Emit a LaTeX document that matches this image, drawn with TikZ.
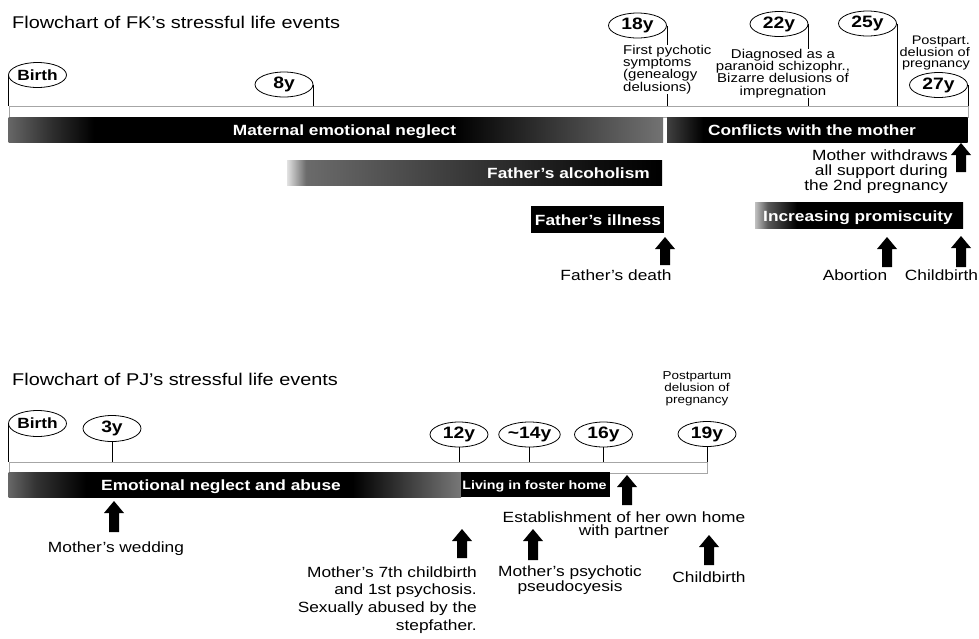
\documentclass[tikz,border=0pt]{standalone}
\usepackage{fontspec}
\setmainfont{Liberation Sans}[FakeStretch=1.17]
\usetikzlibrary{shapes.geometric}

\pgfdeclarehorizontalshading{matshade}{100bp}{rgb(0bp)=(0.4,0.4,0.4); rgb(25bp)=(0.4,0.4,0.4); rgb(28bp)=(0.2,0.2,0.2); rgb(31.5bp)=(0,0,0); rgb(59bp)=(0,0,0); rgb(75bp)=(0.45,0.45,0.45); rgb(100bp)=(0.45,0.45,0.45)}
\pgfdeclarehorizontalshading{conshade}{100bp}{rgb(0bp)=(0.25,0.25,0.25); rgb(25bp)=(0.25,0.25,0.25); rgb(31bp)=(0,0,0); rgb(100bp)=(0,0,0)}
\pgfdeclarehorizontalshading{alcshade}{100bp}{rgb(0bp)=(0.88,0.88,0.88); rgb(25bp)=(0.88,0.88,0.88); rgb(27.5bp)=(0.42,0.42,0.42); rgb(67bp)=(0.05,0.05,0.05); rgb(75bp)=(0,0,0); rgb(100bp)=(0,0,0)}
\pgfdeclarehorizontalshading{promshade}{100bp}{rgb(0bp)=(0.75,0.75,0.75); rgb(25bp)=(0.75,0.75,0.75); rgb(28bp)=(0.35,0.35,0.35); rgb(35bp)=(0,0,0); rgb(100bp)=(0,0,0)}
\pgfdeclarehorizontalshading{emoshade}{100bp}{rgb(0bp)=(0.4,0.4,0.4); rgb(25bp)=(0.4,0.4,0.4); rgb(28bp)=(0.2,0.2,0.2); rgb(33.5bp)=(0,0,0); rgb(63bp)=(0,0,0); rgb(75bp)=(0.47,0.47,0.47); rgb(100bp)=(0.47,0.47,0.47)}

% block arrow pointing up: x, tip y, bottom y
\newcommand\blockarrow[3]{\fill (#1-5,#3) -- (#1-5,#2+12) -- (#1-10,#2+12) -- (#1,#2) -- (#1+10,#2+12) -- (#1+5,#2+12) -- (#1+5,#3) -- cycle;}

\begin{document}
\begin{tikzpicture}[x=1pt,y=-1pt,
  yr/.style={ellipse, draw, line width=0.8pt, minimum width=58pt, minimum height=25pt, inner sep=0pt, font=\bfseries\fontsize{16.5}{16.5}\selectfont},
  tick/.style={line width=0.8pt},
  band/.style={rectangle, draw=black!35, line width=0.8pt, fill=white, inner sep=0pt, minimum height=11pt},
  bar/.style={rectangle, inner sep=0pt, minimum height=25pt, draw=none},
  barlbl/.style={text=white, font=\bfseries\fontsize{14.8}{15}\selectfont, inner sep=0pt},
  note/.style={font=\fontsize{14.8}{15}\selectfont, inner sep=0pt},
  small/.style={font=\fontsize{12.8}{12.2}\selectfont, inner sep=0pt, fill=white},
  title/.style={font=\fontsize{17}{20}\selectfont, inner sep=0pt, anchor=base west}]
\useasboundingbox (0,0) rectangle (979,638);

% ================= FK =================
\node[title] (titleA) at (12,28) {Flowchart of FK's stressful life events};

\node[band, minimum width=959pt, anchor=north west] (bandA) at (8.5,106) {};

\node[yr, font=\bfseries\fontsize{14.8}{15}\selectfont] (birthA) at (37.5,75) {Birth};
\node[yr] (y8) at (284,84.5) {8y};
\node[yr] (y18) at (637.5,25.5) {18y};
\node[yr] (y22) at (779,24) {22y};
\node[yr] (y25) at (867.5,23.5) {25y};
\node[yr] (y27) at (938.5,85) {27y};

\draw[tick] (birthA.west) -- (birthA.west |- bandA.north);
\draw[tick] (y8.east) -- (y8.east |- bandA.north);
\draw[tick] (y18.east) -- (y18.east |- bandA.north);
\draw[tick] (y22.east) -- (y22.east |- bandA.north);
\draw[tick] (y25.east) -- (y25.east |- bandA.north);
\draw[tick] (y27.east) -- (y27.east |- bandA.north);

\node[small, anchor=north west, align=left] (t18) at (623,45) {First pychotic\\symptoms\\(genealogy\\delusions)};
\node[small, anchor=north, align=center] (t22) at (783,49) {Diagnosed as a\\paranoid schizophr.,\\Bizarre delusions of\\impregnation};
\node[small, anchor=north east, align=right, font=\fontsize{12.4}{10.5}\selectfont] (t27) at (970,35.5) {Postpart.\\delusion of\\pregnancy};

\node[bar, shading=matshade, minimum width=654.5pt, anchor=north west] (matbar) at (8.5,117) {};
\node[bar, shading=conshade, minimum width=300.5pt, anchor=north west] (conbar) at (667,117) {};
\node[bar, shading=alcshade, minimum width=375pt, anchor=north west] (alcbar) at (287,160) {};
\node[bar, fill=black, minimum width=133pt, minimum height=27pt, anchor=north west] (illbar) at (531,206) {};
\node[bar, shading=promshade, minimum width=208pt, minimum height=26pt, anchor=north west] (prombar) at (755,202) {};

\node[barlbl, anchor=base] (lmat) at (344.5,135.5) {Maternal emotional neglect};
\node[barlbl, anchor=base] (lcon) at (812,135.5) {Conflicts with the mother};
\node[barlbl, anchor=base east] (lalc) at (650,178.5) {Father's alcoholism};
\node[barlbl, anchor=base] (lill) at (598,225.5) {Father's illness};
\node[barlbl, anchor=base] (lprom) at (858,221) {Increasing promiscuity};

\blockarrow{961}{143}{172}
\blockarrow{665}{237}{265}
\blockarrow{887}{237}{267}
\blockarrow{961}{236}{267}

\node[note, anchor=north east, align=right] (nwith) at (948,149.5) {Mother withdraws\\all support during\\the 2nd pregnancy};
\node[note, anchor=base] (ndeath) at (616,280) {Father's death};
\node[note, anchor=base] (nabort) at (855,280) {Abortion};
\node[note, anchor=base] (nchildA) at (941.5,280) {Childbirth};

% ================= PJ =================
\node[title] (titleB) at (12,385) {Flowchart of PJ's stressful life events};

\node[band, minimum width=698.5pt, anchor=north west] (bandB) at (8.5,462) {};

\node[yr, minimum height=26pt, font=\bfseries\fontsize{14.8}{15}\selectfont] (birthB) at (37.5,423.5) {Birth};
\node[yr, minimum height=26pt] (y3) at (112,428.5) {3y};
\node[yr] (y12) at (459,434.5) {12y};
\node[yr] (y14) at (529.5,434.5) {\textasciitilde14y};
\node[yr] (y16) at (603.5,434.5) {16y};
\node[yr] (y19) at (707,434) {19y};

\draw[tick] (birthB.west) -- (birthB.west |- bandB.north);
\draw[tick] (y3.south) -- (y3.south |- bandB.north);
\draw[tick] (y12.south) -- (y12.south |- bandB.north);
\draw[tick] (y14.south) -- (y14.south |- bandB.north);
\draw[tick] (y16.south) -- (y16.south |- bandB.north);
\draw[tick] (y19.south) -- (y19.south |- bandB.north);

\node[inner sep=0pt, anchor=north, align=center, font=\fontsize{11.5}{12}\selectfont] (t19) at (697,371) {Postpartum\\delusion of\\pregnancy};

\node[bar, shading=emoshade, minimum width=452.5pt, anchor=north west] (emobar) at (8.5,472) {};
\node[bar, fill=black, minimum width=149pt, anchor=north west] (livbar) at (461,472) {};

\node[barlbl, anchor=base] (lemo) at (221,490.5) {Emotional neglect and abuse};
\node[barlbl, anchor=base, font=\bfseries\fontsize{12.2}{13}\selectfont] (lliv) at (534.5,489) {Living in foster home};

\blockarrow{114}{501}{532}
\blockarrow{462}{529}{558}
\blockarrow{533}{529}{560}
\blockarrow{627}{475}{505}
\blockarrow{709}{535}{565}

\node[note, anchor=base] (nwed) at (116,552) {Mother's wedding};
\node[note, anchor=north east, align=right, font=\fontsize{14.8}{17.7}\selectfont] (nseventh) at (477,566.3) {Mother's 7th childbirth\\and 1st psychosis.\\Sexually abused by the\\stepfather.};
\node[note, anchor=north, align=center, font=\fontsize{14.8}{13.5}\selectfont] (npseudo) at (570,565.3) {Mother's psychotic\\pseudocyesis};
\node[note, anchor=north, align=center, font=\fontsize{14.8}{13}\selectfont] (nestab) at (624,511.3) {Establishment of her own home\\with partner};
\node[note, anchor=base] (nchildB) at (709,582) {Childbirth};
\end{tikzpicture}
\end{document}
